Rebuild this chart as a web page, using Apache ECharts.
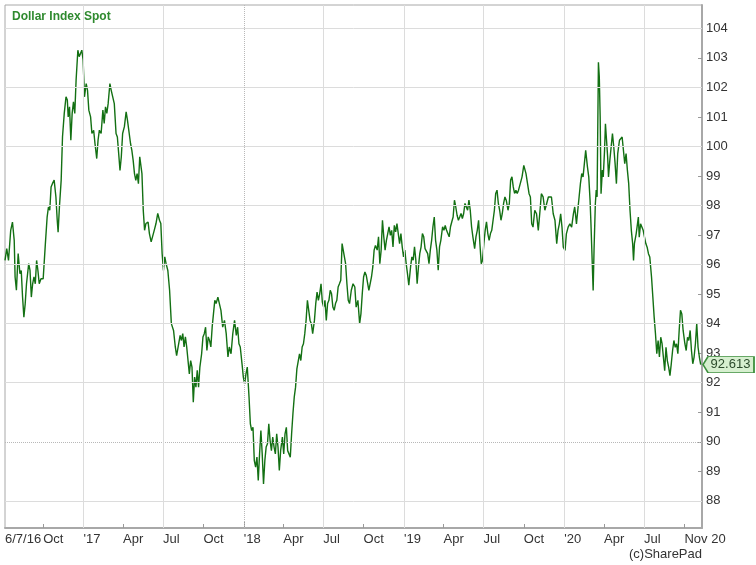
<!DOCTYPE html>
<html><head><meta charset="utf-8">
<script src="https://cdn.jsdelivr.net/npm/echarts@6/dist/echarts.min.js"></script>
<style>html,body{margin:0;padding:0;background:#fff}#c{width:756px;height:565px}</style>
</head><body><div id="c"></div>
<script>
// ---- data ----
const title = 'Dollar Index Spot';
const credit = '(c)SharePad';
const startDate = '2016-07-06';
const endDate = '2020-11-10';
// days since startDate
const days = [0,4,8,13,17,21,23,26,30,34,37,40,43,46,49,54,57,60,63,66,69,72,75,78,82,87,92,96,99,102,105,108,112,116,119,121,124,128,131,135,139,142,144,147,150,153,156,159,162,166,169,172,175,178,181,185,188,191,195,198,202,205,209,212,215,219,223,226,229,232,235,239,242,245,249,253,256,259,262,265,268,272,276,279,282,286,289,292,295,298,301,304,307,310,312,315,318,321,326,329,333,337,340,344,348,352,355,358,361,364,367,371,
375,379,384,388,391,395,399,402,405,408,411,414,417,420,423,426,429,432,435,438,441,444,448,451,454,457,460,463,466,469,472,475,478,481,485,489,492,496,500,504,508,511,515,519,523,527,530,533,536,540,543,546,549,552,556,559,562,565,568,571,574,577,580,583,586,589,592,595,598,601,604,607,610,613,616,619,622,625,628,632,635,638,641,644,647,650,653,656,659,662,665,668,671,674,677,680,683,686,689,692,695,698,701,705,708,711,714,717,720,723,726,729,732,735,738,741,744,747,750,753,756,759,762,765,768,
776,779,782,785,789,793,797,800,804,808,811,814,817,820,823,826,829,832,835,838,841,844,848,851,854,857,860,863,866,869,872,875,878,881,884,887,890,893,896,899,902,905,908,911,914,917,920,924,927,930,933,936,939,942,945,948,951,954,957,960,963,966,969,972,975,978,981,984,987,990,993,997,1000,1003,1006,1009,1012,1015,1018,1021,1024,1027,1030,1033,1036,1039,1042,1045,1048,1051,1054,1057,1060,1063,1066,1070,1073,1076,1079,1082,1085,1088,1091,1094,1097,1100,1103,1106,1109,1112,1115,1118,1121,1124,1127,1130,1133,1136,1139,1142,1146,1149,1152,1155,1158,1161,1164,1167,1170,1173,
1178,1182,1187,1191,1194,1197,1200,1203,1207,1211,1215,1219,1222,1226,1230,1234,1238,1241,1245,1249,1253,1257,1260,1263,1266,1269,1272,1276,1279,1283,1287,1291,1295,1298,1302,1305,1308,1311,1314,1317,1320,1323,1327,1330,1333,1335,1337,1340,1342,1345,1347,1349,1352,1354,1356,1358,1361,1363,1366,1368,1371,1373,1375,1378,1381,1384,1387,1390,1393,1396,1400,1403,1406,1409,1412,1415,1418,1421,1424,1427,1430,1432,1434,1438,1441,1443,1445,1448,1451,1454,1457,1460,1463,1466,1469,1473,1476,1479,1482,1485,1488,1491,1494,1497,1500,1503,1506,1509,1512,1515,1518,1521,1524,1527,1530,1533,1536,1539,1542,1545,1549,1552,1555,1558,1561,1564,1567,1570,1573,1576,1579,1582,1585];
const values = [96.14,96.54,96.14,97.16,97.44,96.82,95.58,95.13,96.37,95.69,95.8,94.9,94.22,94.67,95.35,96.03,95.8,94.9,95.35,95.58,95.35,96.14,95.8,95.35,95.52,95.52,96.71,97.61,97.95,97.84,98.63,98.74,98.86,98.29,97.5,97.1,97.95,98.86,100.32,101.12,101.68,101.57,101.0,101.34,100.21,101.12,101.51,101.12,102.25,103.26,103.04,103.15,103.26,102.92,101.68,102.13,101.9,101.23,101.0,100.44,100.55,100.1,99.59,100.21,100.55,100.44,101.23,100.78,101.34,101.12,101.45,102.13,101.9,101.96,101.45,100.44,100.32,99.76,99.19,99.65,100.44,100.67,101.17,100.89,100.55,100.1,99.87,99.53,99.08,98.85,99.08,98.74,99.65,99.7,99.08,97.84,97.16,97.39,97.44,97.05,96.77,96.71,97.16,97.39,97.73,97.5,97.39,96.37,95.8,96.26,96.03,95.8,
95.13,94.0,93.77,93.21,92.92,92.98,93.6,93.43,93.66,93.21,93.55,93.21,92.75,92.3,92.75,92.53,91.34,92.19,91.85,92.42,91.85,92.53,92.98,93.55,93.66,93.88,93.09,93.55,93.43,93.21,93.88,94.34,94.79,94.68,94.9,94.84,94.45,93.88,94.11,93.66,92.87,93.21,92.98,93.66,94.11,93.6,93.88,93.32,93.21,92.64,92.19,91.96,92.3,92.53,91.51,90.61,90.38,90.49,89.36,89.14,89.48,88.69,89.59,90.38,89.59,88.57,89.36,89.82,89.93,90.61,90.04,89.7,90.16,89.82,89.59,90.27,89.82,89.03,89.7,90.16,89.59,90.27,90.49,89.7,89.59,89.48,90.27,90.95,91.51,91.85,92.47,92.53,92.98,92.75,93.21,93.32,93.66,94.11,94.79,94.45,94.11,94.0,93.66,94.11,94.68,95.07,94.79,95.01,95.35,94.73,94.56,94.79,94.11,94.68,94.79,95.13,95.01,94.56,94.45,94.68,94.79,95.24,95.35,95.47,96.71,
96.03,95.35,94.79,94.68,95.13,95.35,95.24,94.56,94.79,94.0,94.34,95.02,95.58,95.75,95.64,95.69,95.13,95.07,95.58,95.92,96.49,96.65,96.49,96.94,96.03,96.49,97.5,96.94,96.49,96.82,97.05,97.28,96.99,97.16,96.6,97.33,97.11,97.39,97.05,96.71,97.05,96.6,96.26,96.49,96.03,95.69,95.3,95.92,96.26,96.15,96.6,96.15,95.35,95.92,96.37,96.6,97.05,96.94,96.54,96.6,96.37,96.03,96.49,96.82,97.28,97.61,96.82,96.49,95.81,96.6,96.82,97.28,97.16,97.33,97.16,97.05,96.94,97.28,97.45,97.61,98.18,97.95,97.67,97.5,97.61,97.73,97.56,97.73,98.07,98.12,97.84,98.18,97.84,97.28,96.94,96.54,96.94,97.16,97.5,96.71,96.03,96.15,96.71,97.16,97.45,97.05,96.82,97.05,97.16,97.5,97.84,98.41,98.52,98.07,97.84,97.5,97.73,98.07,98.29,98.18,97.84,98.07,98.86,98.97,98.63,98.41,98.52,98.41,98.52,98.58,
98.97,99.36,99.08,99.08,98.4,98.29,97.38,97.27,97.84,97.72,97.16,97.84,98.4,98.29,97.84,98.06,98.29,98.35,98.29,97.72,97.5,96.71,97.16,97.38,97.72,97.27,96.59,96.48,97.04,97.27,97.38,97.27,97.72,97.95,97.38,97.84,98.29,98.74,99.08,98.97,99.42,99.87,99.31,98.97,98.17,97.38,96.48,95.12,96.48,98.06,98.52,98.29,102.85,102.36,101.0,98.4,99.2,98.97,99.87,100.77,100.1,99.65,98.97,99.53,99.98,100.44,99.98,99.42,98.74,99.76,100.21,100.27,100.32,100.27,99.42,99.76,99.2,98.74,97.84,97.16,96.71,96.14,96.71,97.04,97.38,97.61,96.93,97.38,97.44,97.16,96.93,96.71,96.59,96.37,96.26,95.58,94.9,94.22,93.66,92.98,93.43,92.87,93.54,93.32,92.87,92.41,93.2,92.75,92.53,92.24,92.64,93.09,93.43,93.2,93.32,92.98,93.77,94.45,94.33,93.77,93.32,93.09,93.54,93.43,93.77,93.09,92.64,92.87,93.32,94.0,93.2,92.87,92.613];

const xLabelDates = ['2016-07-06','2016-10-01','2017-01-01','2017-04-01','2017-07-01','2017-10-01','2018-01-01','2018-04-01','2018-07-01','2018-10-01','2019-01-01','2019-04-01','2019-07-01','2019-10-01','2020-01-01','2020-04-01','2020-07-01','2020-10-01'];
const xLabelTexts = ['6/7/16','Oct',"'17",'Apr','Jul','Oct',"'18",'Apr','Jul','Oct',"'19",'Apr','Jul','Oct',"'20",'Apr','Jul','Nov 20'];
const minorTickDates = ['2016-10-01','2017-04-01','2017-07-01','2017-10-01','2018-04-01','2018-07-01','2018-10-01','2019-04-01','2019-07-01','2019-10-01','2020-04-01','2020-07-01','2020-10-01'];
const majorTickDates = ['2017-01-01','2018-01-01','2019-01-01','2020-01-01'];
const vGridDates = ['2017-01-01','2017-07-01','2018-01-01','2018-07-01','2019-01-01','2019-07-01','2020-01-01','2020-07-01'];
const yLabels = [88,89,90,91,92,93,94,95,96,97,98,99,100,101,102,103,104];
const hGridValues = [88,90,92,94,96,98,100,102,104];
const yMin = 87.08, yMax = 104.79;

// ---- build ----
const DAY = 86400000;
const toTs = s => Date.parse(s + 'T00:00:00Z');
const t0 = toTs(startDate);
const xMin = t0, xMax = toTs(endDate);
const seriesData = days.map((d, i) => [t0 + d * DAY, values[i]]);
const lastValue = values[values.length - 1];
const labelTs = xLabelDates.map(toTs);
const labelMap = {};
labelTs.forEach((t, i) => { labelMap[t] = xLabelTexts[i]; });
const FONT = '"Liberation Sans", Arial, sans-serif';

const chart = echarts.init(document.getElementById('c'), null, {renderer: 'canvas'});
chart.setOption({
  animation: false,
  backgroundColor: '#fff',
  grid: {left: 5, right: 54, top: 5, bottom: 37, show: true, borderColor: '#a8a8a8', borderWidth: 1},
  title: {text: title, left: 12, top: 11, padding: 0,
    textStyle: {color: '#2f8a2f', fontSize: 12, fontWeight: 'bold', fontFamily: FONT}},
  xAxis: [{
    type: 'value', min: xMin, max: xMax, position: 'bottom',
    axisLine: {show: true, onZero: false, lineStyle: {color: '#a8a8a8', width: 2}},
    axisTick: {show: true, inside: true, length: 4, customValues: minorTickDates.map(toTs), lineStyle: {color: '#999'}},
    axisLabel: {show: true, customValues: labelTs, formatter: v => labelMap[v] || '', align: 'left',
      margin: 5, color: '#333', fontSize: 13, fontFamily: FONT},
    splitLine: {show: false}
  }, {
    type: 'value', min: xMin, max: xMax, position: 'bottom',
    axisLine: {show: false, onZero: false},
    axisTick: {show: true, inside: true, length: 7, customValues: majorTickDates.map(toTs), lineStyle: {color: '#999'}},
    axisLabel: {show: false},
    splitLine: {show: false}
  }],
  yAxis: {
    type: 'value', position: 'right', min: yMin, max: yMax,
    axisLine: {show: true, onZero: false, lineStyle: {color: '#a8a8a8', width: 2}},
    axisTick: {show: true, inside: true, length: 4, customValues: yLabels, lineStyle: {color: '#999'}},
    axisLabel: {show: true, customValues: yLabels, margin: 4, color: '#333', fontSize: 13, fontFamily: FONT},
    splitLine: {show: false}
  },
  series: [{
    type: 'line', name: 'grid', data: [[xMin, null]], showSymbol: false, silent: true, clip: false, z: 1,
    lineStyle: {opacity: 0},
    markLine: {
      silent: true, symbol: 'none', label: {show: false}, emphasis: {disabled: true},
      lineStyle: {color: '#dcdcdc', type: 'solid', width: 1},
      data: hGridValues.map(v => v === 90 ? {yAxis: v, lineStyle: {color: '#b8b8b8', type: 'dotted'}} : {yAxis: v})
        .concat(vGridDates.map(d => d === '2018-01-01' ? {xAxis: toTs(d), lineStyle: {color: '#b8b8b8', type: 'dotted'}} : {xAxis: toTs(d)}))
    },
    markPoint: {
      silent: true,
      symbol: 'path://M0,8 L5,0 L51,0 L51,16 L5,16 Z',
      symbolSize: [51, 16], symbolKeepAspect: false, symbolOffset: [26.5, 0],
      itemStyle: {color: '#d6efcf', borderColor: '#3c8f3c', borderWidth: 1},
      label: {show: true, position: 'inside', formatter: p => Number(p.value).toFixed(3),
        color: '#2b4b2b', fontSize: 13, fontFamily: FONT, offset: [2, 0]},
      data: [{coord: [xMax, lastValue], value: lastValue}]
    }
  }, {
    type: 'line', name: title, data: seriesData, showSymbol: false, z: 3,
    lineStyle: {color: '#137013', width: 1.4}
  }],
  graphic: [{type: 'text', right: 54, top: 548,
    style: {text: credit, fill: '#333', font: '13px ' + FONT}}]
});
</script></body></html>
